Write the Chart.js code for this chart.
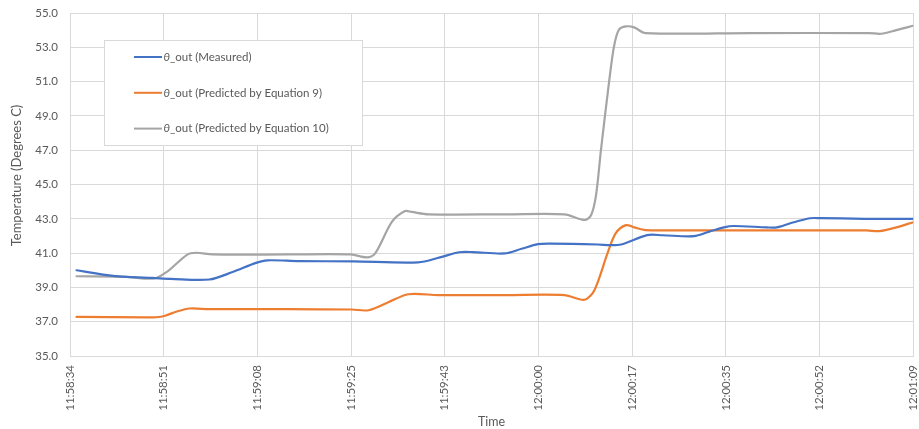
<!DOCTYPE html>
<html>
<head>
<meta charset="utf-8">
<script src="https://cdn.jsdelivr.net/npm/chart.js@4.4.1/dist/chart.umd.min.js"></script>
<style>
  html, body { margin: 0; padding: 0; background: #ffffff; overflow: hidden; width: 919px; height: 429px; }
  #wrap { width: 936px; height: 429px; }
</style>
</head>
<body>
<div id="wrap"><canvas id="chart" width="936" height="429"></canvas></div>
<script>
// Time axis labels (equally spaced across the run)
const timeLabels = ['11:58:34', '11:58:51', '11:59:08', '11:59:25', '11:59:43',
                    '12:00:00', '12:00:17', '12:00:35', '12:00:52', '12:01:09'];
const runSeconds = 155;   // 11:58:34 -> 12:01:09

// Measured outlet temperature: seconds since start, degrees C
const measuredT = [1.2, 6.1, 10.4, 15.2, 18.5, 25.6, 29.9, 34.2, 36.3, 42.1, 52, 64.0, 68.0, 71.5, 74.0, 79.9, 83.0, 86.0, 88.4, 97.0, 99.4, 101.3, 106.1, 109.0, 114.7, 117.5, 120.2, 122.0, 128.1, 129.9, 132.4, 136.0, 137.9, 146, 155];
const measuredV = [40.0, 39.75, 39.61, 39.55, 39.5, 39.46, 39.9, 40.43, 40.58, 40.53, 40.52, 40.46, 40.75, 41.05, 41.06, 40.98, 41.25, 41.52, 41.55, 41.5, 41.46, 41.5, 42.05, 42.04, 41.99, 42.25, 42.5, 42.58, 42.5, 42.5, 42.74, 43.03, 43.04, 43.0, 43.0];

// Predicted by Equation 9
const eq9T = [1.2, 14.0, 15.8, 17.5, 19.5, 22.0, 25.6, 40, 51.8, 54.9, 58.6, 62.2, 67.7, 80, 90.9, 94.6, 96.4, 98.8, 100.3, 102.2, 103.7, 105.8, 120, 146.4, 148.8, 151.9, 155];
const eq9V = [37.28, 37.25, 37.26, 37.35, 37.58, 37.77, 37.73, 37.73, 37.71, 37.67, 38.15, 38.6, 38.55, 38.55, 38.55, 38.28, 38.84, 40.98, 42.15, 42.63, 42.5, 42.34, 42.33, 42.32, 42.28, 42.5, 42.8];

// Predicted by Equation 10
const eq10T = [1.2, 10.4, 15.5, 18.0, 21.5, 23.2, 26.2, 40, 51.6, 54.6, 56.1, 59.2, 61.6, 62.8, 65.9, 80, 90.9, 94.6, 95.8, 96.7, 97.6, 99.1, 100.0, 100.9, 102.2, 103.7, 105.8, 125, 146.9, 149.1, 151.9, 155];
const eq10V = [39.65, 39.61, 39.52, 39.95, 40.9, 41.02, 40.92, 40.92, 40.92, 40.75, 40.98, 42.83, 43.45, 43.4, 43.26, 43.26, 43.26, 42.93, 43.22, 44.38, 47.0, 51.0, 53.05, 54.02, 54.22, 54.16, 53.83, 53.83, 53.83, 53.79, 54.0, 54.26];

const seriesNames = ['θ_out (Measured)', 'θ_out (Predicted by Equation 9)', 'θ_out (Predicted by Equation 10)'];
const seriesColors = ['#4472C4', '#ED7D31', '#A5A5A5'];
const yTitle = 'Temperature (Degrees C)';

const toPoints = (ts, vs) => ts.map((t, i) => ({ x: t, y: vs[i] }));

const FONT = 'Lato, "Liberation Sans", sans-serif';
const TEXT = '#595959';
const GRID = '#D9D9D9';

// Boxed legend inside the plot area, Greek letter set in italics
const boxedLegend = {
  id: 'boxedLegend',
  afterDatasetsDraw(chart) {
    const { ctx, chartArea } = chart;
    const x0 = Math.round(chartArea.left + 34) + 0.5, y0 = Math.round(chartArea.top + 27) + 0.5;
    const w = 258, h = 105;
    ctx.save();
    ctx.fillStyle = '#ffffff';
    ctx.fillRect(x0, y0, w, h);
    ctx.strokeStyle = GRID;
    ctx.lineWidth = 1;
    ctx.strokeRect(x0, y0, w, h);
    chart.data.datasets.forEach((ds, i) => {
      const y = y0 + 16.5 + i * 35.8;
      const lx = x0 + 29.5;
      ctx.strokeStyle = ds.borderColor;
      ctx.lineWidth = 2;
      ctx.beginPath();
      ctx.moveTo(lx, y);
      ctx.lineTo(lx + 28, y);
      ctx.stroke();
      const label = ds.label;
      let tx = lx + 29.5;
      ctx.fillStyle = TEXT;
      ctx.textBaseline = 'middle';
      ctx.textAlign = 'left';
      ctx.font = 'italic 11.5px ' + FONT;
      const greek = label.charAt(0);
      ctx.fillText(greek, tx, y);
      tx += ctx.measureText(greek).width;
      ctx.font = '11.5px ' + FONT;
      ctx.fillText(label.slice(1), tx, y);
    });
    ctx.restore();
  }
};

// Vertical axis title, sitting a little above the plot's middle
const valueAxisTitle = {
  id: 'valueAxisTitle',
  afterDraw(chart) {
    const { ctx, chartArea } = chart;
    const cy = (chartArea.top + chartArea.bottom) / 2 - 9;
    ctx.save();
    ctx.translate(17, cy);
    ctx.rotate(-Math.PI / 2);
    ctx.fillStyle = TEXT;
    ctx.font = '13px ' + FONT;
    ctx.textAlign = 'center';
    ctx.textBaseline = 'middle';
    ctx.fillText(yTitle, 0, 0);
    ctx.restore();
  }
};

new Chart(document.getElementById('chart'), {
  type: 'line',
  data: {
    datasets: [
      { label: seriesNames[0], data: toPoints(measuredT, measuredV), borderColor: seriesColors[0] },
      { label: seriesNames[1], data: toPoints(eq9T, eq9V), borderColor: seriesColors[1] },
      { label: seriesNames[2], data: toPoints(eq10T, eq10V), borderColor: seriesColors[2] }
    ]
  },
  options: {
    responsive: false,
    animation: false,
    devicePixelRatio: 1,
    layout: { padding: { top: 13, right: 8, bottom: 0, left: 0 } },
    elements: {
      line: { borderWidth: 2.2, tension: 0.3, borderCapStyle: 'round', borderJoinStyle: 'round', fill: false },
      point: { radius: 0, hoverRadius: 0 }
    },
    plugins: { legend: { display: false }, tooltip: { enabled: false } },
    scales: {
      x: {
        type: 'linear',
        min: 0,
        max: runSeconds,
        afterBuildTicks(scale) {
          scale.ticks = timeLabels.map((_, i) => ({ value: i * runSeconds / (timeLabels.length - 1) }));
        },
        afterFit(scale) { scale.height = 73; },
        ticks: {
          autoSkip: false,
          minRotation: 90,
          maxRotation: 90,
          padding: 9,
          color: TEXT,
          font: { family: FONT, size: 11.5 },
          callback: (v, i) => timeLabels[i]
        },
        grid: { color: GRID, lineWidth: 1, drawTicks: false },
        border: { color: GRID, width: 1 },
        title: { display: true, text: 'Time', color: TEXT, font: { family: FONT, size: 12.5 }, padding: { top: 0, bottom: 0 } }
      },
      y: {
        min: 35,
        max: 55,
        afterFit(scale) {
          scale.width = 70;
          scale.paddingTop = 7;
          scale.paddingBottom = 7;
        },
        ticks: {
          stepSize: 2,
          padding: 12,
          color: TEXT,
          font: { family: FONT, size: 11.5 },
          callback: v => v.toFixed(1)
        },
        grid: { color: GRID, lineWidth: 1, drawTicks: false },
        border: { color: GRID, width: 1 },
        title: { display: false }
      }
    }
  },
  plugins: [boxedLegend, valueAxisTitle]
});
</script>
</body>
</html>
